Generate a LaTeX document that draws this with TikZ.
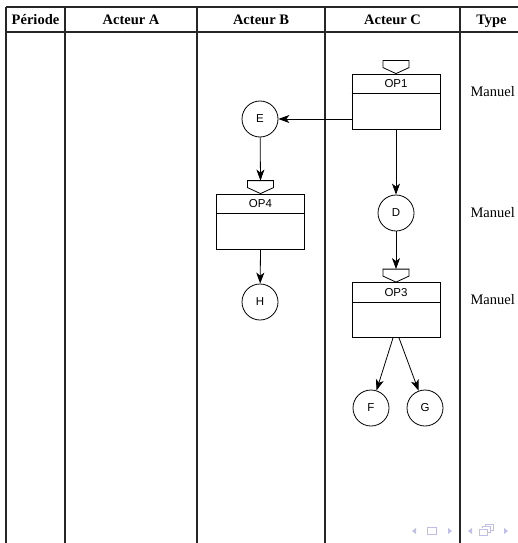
\documentclass[tikz,border=0pt]{standalone}
\usepackage{fontspec}
\setmainfont{Liberation Serif}
\setsansfont{Liberation Sans}
\usetikzlibrary{arrows.meta,positioning,calc}
\definecolor{navLilac}{RGB}{190,190,230}

% operation box: name, centre, label
\newcommand{\opbox}[3]{%
  \node[op] (#1) at (#2) {};
  \draw[opline] ($(#1.north west)+(0,20)$) -- ($(#1.north east)+(0,20)$);
  \node[oplabel] at ($(#1.north)+(0,10)$) {#3};
  \draw[opline] (#1.north) -- ++(-13,-6) -- ++(0,-7) -- ++(26,0) -- ++(0,7) -- cycle;
  \coordinate (#1-in) at ($(#1.north)+(0,-13)$);
}

\begin{document}
\begin{tikzpicture}[x=1pt, y=-1pt,
    lane/.style={line width=1.4pt, black!85},
    head/.style={font=\fontsize{14.5}{17}\selectfont\bfseries, anchor=base},
    kind/.style={font=\fontsize{14.5}{17}\selectfont, anchor=west},
    opline/.style={line width=0.8pt},
    op/.style={rectangle, draw, opline, minimum width=88pt, minimum height=55pt, inner sep=0pt},
    oplabel/.style={font=\fontsize{11.5}{13}\selectfont\sffamily, inner sep=0pt},
    ev/.style={circle, draw, opline, minimum size=36pt, inner sep=0pt,
               font=\fontsize{11.5}{13}\selectfont\sffamily},
    arr/.style={-{Stealth[length=11pt, width=8pt, inset=3pt]}, opline},
    nav/.style={fill=navLilac, draw=none}]

    \useasboundingbox (0,0) rectangle (518,543);

    % Table frame
    \draw[lane] (6,7) -- (518,7);
    \draw[lane] (6,32) -- (518,32);
    \foreach \x in {6,65,197,325,460}
      \draw[lane] (\x,7) -- (\x,543);

    % Column heads
    \node[head] (hper) at (35.5,25) {Période};
    \node[head] (ha) at (131,25) {Acteur A};
    \node[head] (hb) at (261,25) {Acteur B};
    \node[head] (hc) at (392.5,25) {Acteur C};
    \node[head] (htype) at (491.5,25) {Type};

    % Operations
    \opbox{op1}{396,101.5}{OP1}
    \opbox{op4}{260.5,221.5}{OP4}
    \opbox{op3}{396,310}{OP3}

    % Events
    \node[ev] (E) at (260,119) {E};
    \node[ev] (H) at (260,302) {H};
    \node[ev] (D) at (396,213) {D};
    \node[ev] (F) at (371,408) {F};
    \node[ev] (G) at (425,408) {G};

    % Flow
    \draw[arr] (E -| op1.west) -- (E);
    \draw[arr] (E) -- (op4-in);
    \draw[arr] (op4.south) -- (H);
    \draw[arr] (op1.south) -- (D);
    \draw[arr] (D) -- (op3-in);
    \draw[arr] ($(op3.south)+(-3,0)$) -- (F);
    \draw[arr] ($(op3.south)+(3,0)$) -- (G);

    % Type column
    \node[kind] (t1) at (467,92) {Manuel};
    \node[kind] (t2) at (467,213) {Manuel};
    \node[kind] (t3) at (467,300) {Manuel};

    % Navigation symbols
    \fill[nav] (416,528) -- (412,531) -- (416,534) -- cycle;
    \draw[navLilac, line width=0.8pt] (427,527.5) rectangle (436,534.5);
    \fill[nav] (448,528) -- (452,531) -- (448,534) -- cycle;
    \fill[nav] (472,528) -- (468,531) -- (472,534) -- cycle;
    \draw[navLilac, line width=0.8pt] (479,529.5) rectangle (487,535.5);
    \draw[navLilac, line width=0.8pt] (482,527) -- (482,526.5) -- (490,526.5) -- (490,532.5) -- (487,532.5);
    \draw[navLilac, line width=0.8pt] (485,526.5) -- (485,524) -- (493,524) -- (493,530) -- (490,530);
    \fill[nav] (504,528) -- (508,531) -- (504,534) -- cycle;

\end{tikzpicture}
\end{document}
